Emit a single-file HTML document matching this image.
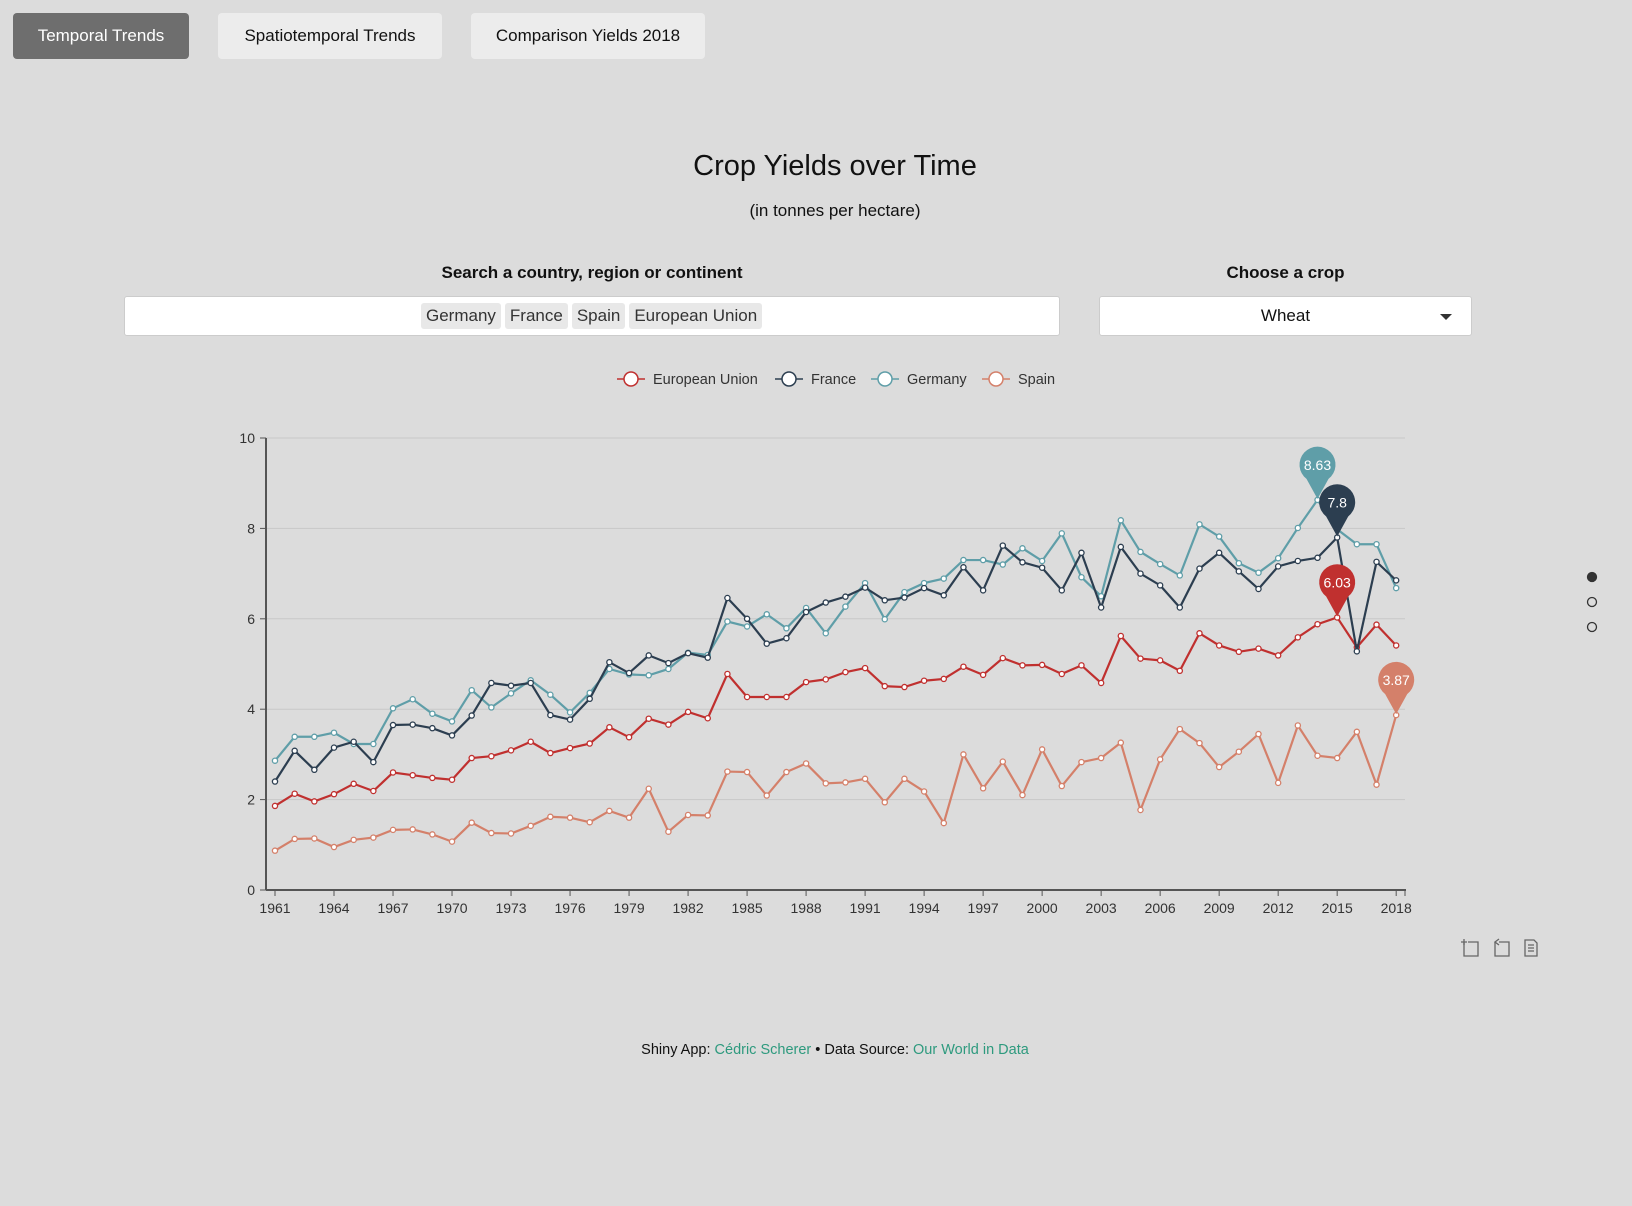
<!DOCTYPE html>
<html><head><meta charset="utf-8"><style>
body{margin:0;width:1632px;height:1206px;background:#dcdcdc;font-family:"Liberation Sans",sans-serif;position:relative;overflow:hidden;color:#111}
.tab{position:absolute;top:13px;height:46px;border-radius:4px;background:#ececec;font-size:17px;line-height:46px;text-align:center;color:#111}
.abs{position:absolute}
.tag{display:inline-block;background:#e8e8e8;border-radius:3px;padding:0 5px;margin-right:4px;height:26px;line-height:26px;font-size:17px;color:#333}
a{color:#2e9a7e;text-decoration:none}
</style></head><body>
<div class="tab" style="left:13px;width:176px;background:#6e6e6e;color:#fff">Temporal Trends</div>
<div class="tab" style="left:218px;width:224px">Spatiotemporal Trends</div>
<div class="tab" style="left:471px;width:234px">Comparison Yields 2018</div>
<div class="abs" style="left:0;width:1670px;top:150px;text-align:center;font-size:29px">Crop Yields over Time</div>
<div class="abs" style="left:0;width:1670px;top:201px;text-align:center;font-size:17px">(in tonnes per hectare)</div>
<div class="abs" style="left:124px;width:936px;top:263px;text-align:center;font-size:17px;font-weight:bold">Search a country, region or continent</div>
<div class="abs" style="left:124px;top:296px;width:936px;height:40px;background:#fff;border:1px solid #ccc;border-radius:3px;box-sizing:border-box;padding:6px 0 0 296px">
<span class="tag">Germany</span><span class="tag">France</span><span class="tag">Spain</span><span class="tag">European Union</span></div>
<div class="abs" style="left:1099px;width:373px;top:263px;text-align:center;font-size:17px;font-weight:bold">Choose a crop</div>
<div class="abs" style="left:1099px;top:296px;width:373px;height:40px;background:#fff;border:1px solid #ccc;border-radius:3px;box-sizing:border-box;text-align:center;line-height:38px;font-size:17px">Wheat<span style="position:absolute;left:340px;top:17px;width:0;height:0;border-left:6px solid transparent;border-right:6px solid transparent;border-top:6px solid #333"></span></div>
<svg id="chart" class="abs" style="left:0;top:0" width="1632" height="1206"></svg>
<div class="abs" style="left:0;width:1670px;top:1042px;text-align:center;font-size:14.5px">Shiny App: <a href="#">Cédric Scherer</a> • Data Source: <a href="#">Our World in Data</a></div>
<script>
const years=[];for(let y=1961;y<=2018;y++)years.push(y);
const seriesNames=["European Union","France","Germany","Spain"];
const seriesColors=["#c0302f","#2c3e50","#5f9ea8","#d4806a"];
const euValues=[1.86,2.13,1.96,2.12,2.35,2.19,2.60,2.54,2.48,2.44,2.92,2.96,3.09,3.28,3.03,3.14,3.24,3.60,3.38,3.79,3.66,3.94,3.80,4.78,4.27,4.27,4.27,4.60,4.66,4.82,4.91,4.51,4.49,4.63,4.67,4.94,4.76,5.13,4.97,4.98,4.78,4.97,4.58,5.62,5.12,5.08,4.85,5.68,5.41,5.27,5.34,5.19,5.59,5.88,6.03,5.37,5.87,5.41];
const franceValues=[2.40,3.08,2.66,3.15,3.28,2.83,3.65,3.66,3.58,3.42,3.86,4.58,4.52,4.58,3.87,3.77,4.23,5.04,4.80,5.19,5.02,5.24,5.14,6.46,6.00,5.45,5.57,6.15,6.36,6.49,6.69,6.41,6.47,6.68,6.52,7.14,6.63,7.62,7.25,7.13,6.63,7.46,6.25,7.59,7.00,6.74,6.25,7.11,7.46,7.05,6.66,7.16,7.28,7.35,7.80,5.28,7.26,6.85];
const germanyValues=[2.86,3.39,3.39,3.48,3.23,3.23,4.02,4.22,3.90,3.73,4.42,4.04,4.35,4.64,4.32,3.93,4.36,4.89,4.77,4.75,4.89,5.25,5.20,5.94,5.83,6.10,5.79,6.24,5.68,6.27,6.79,5.99,6.59,6.79,6.89,7.30,7.30,7.20,7.56,7.28,7.89,6.92,6.50,8.18,7.48,7.21,6.96,8.09,7.82,7.23,7.02,7.34,8.01,8.63,7.98,7.65,7.65,6.68];
const spainValues=[0.87,1.13,1.14,0.95,1.11,1.16,1.33,1.34,1.23,1.07,1.49,1.26,1.25,1.42,1.62,1.60,1.50,1.75,1.60,2.24,1.29,1.66,1.65,2.62,2.61,2.09,2.61,2.80,2.36,2.38,2.46,1.94,2.46,2.18,1.48,3.00,2.25,2.84,2.10,3.11,2.30,2.83,2.92,3.26,1.77,2.89,3.56,3.25,2.72,3.06,3.45,2.37,3.64,2.97,2.92,3.50,2.33,3.87];
const yTicks=[0,2,4,6,8,10];
const xTickYears=[1961,1964,1967,1970,1973,1976,1979,1982,1985,1988,1991,1994,1997,2000,2003,2006,2009,2012,2015,2018];
const allValues=[euValues,franceValues,germanyValues,spainValues];
const NS="http://www.w3.org/2000/svg";
const svg=document.getElementById('chart');
const X=y=>275+(y-1961)*19.67;
const Y=v=>890-v*45.2;
function el(t,a,p){const e=document.createElementNS(NS,t);for(const k in a)e.setAttribute(k,a[k]);(p||svg).appendChild(e);return e;}
yTicks.forEach(t=>{
 if(t>0){const g=el('line',{x1:266,x2:1405,y1:Y(t),y2:Y(t),stroke:'#c8c8c8','stroke-width':1});}
 el('line',{x1:260,x2:266,y1:Y(t),y2:Y(t),stroke:'#555'});
 const tx=el('text',{x:255,y:Y(t)+5,'text-anchor':'end','font-size':14,fill:'#333'});tx.textContent=t;
 
 
});
const ax=el('line',{x1:266,x2:266,y1:Y(10),y2:890,stroke:'#555','stroke-width':2});

const bx=el('line',{x1:266,x2:1406,y1:890,y2:890,stroke:'#555','stroke-width':2});

xTickYears.forEach(yr=>{
 el('line',{x1:X(yr),x2:X(yr),y1:890,y2:896,stroke:'#555'});
 const tx=el('text',{x:X(yr),y:913,'text-anchor':'middle','font-size':14,fill:'#333'});tx.textContent=yr;
 
 
});
el('line',{x1:1405,x2:1405,y1:890,y2:896,stroke:'#555'});
const drawOrder=[3,0,2,1];
drawOrder.forEach(i=>{
 const vals=allValues[i],c=seriesColors[i];
 const p=el('polyline',{points:vals.map((v,k)=>X(years[k])+','+Y(v)).join(' '),fill:'none',stroke:c,'stroke-width':2.2});
 
 
 vals.forEach((v,k)=>{const d=el('circle',{cx:X(years[k]),cy:Y(v),r:2.6,fill:'#fff',stroke:c,'stroke-width':1.3});
  });
});
// max markers
allValues.forEach((vals,i)=>{
 let m=0;vals.forEach((v,k)=>{if(v>vals[m])m=k;});
 const px=X(years[m]),py=Y(vals[m]),cy=py-35,r=18;
 const g=el('g',{});
 
 
 el('path',{d:`M${px},${py-1} L${px-11},${cy+14} A${r},${r} 0 1 1 ${px+11},${cy+14} Z`,fill:seriesColors[i]},g);
 const t=el('text',{x:px,y:cy+5,'text-anchor':'middle','font-size':14,fill:'#fff'},g);t.textContent=vals[m];
});
// legend
const legX=[631,789,885,996];
seriesNames.forEach((n,i)=>{
 const g=el('g',{});
 
 
 el('line',{x1:legX[i]-14,x2:legX[i]+14,y1:379,y2:379,stroke:seriesColors[i],'stroke-width':1.5},g);
 el('circle',{cx:legX[i],cy:379,r:7,fill:'#fff',stroke:seriesColors[i],'stroke-width':1.5},g);
 const t=el('text',{x:legX[i]+22,y:384,'font-size':14.5,fill:'#333'},g);t.textContent=n;
});
// pager dots
[577,602,627].forEach((y,i)=>{const d=el('circle',{cx:1592,cy:y,r:4.5,fill:i==0?'#333':'none',stroke:'#333','stroke-width':1.3});
 });
// toolbar icons
[[1470,'zoom'],[1501,'restore'],[1531,'data-view']].forEach(([x,n],i)=>{
 const g=el('g',{fill:'none',stroke:'#666','stroke-width':1.3});
 
 
 if(i<2){el('path',{d:`M${x-6},${942} V${956} H${x+8} V${942} H${x-2}`},g);
  if(i==0)el('path',{d:`M${x-9},942 H${x-3} M${x-6},939 V945`},g);else el('path',{d:`M${x-2},939 L${x-6},942 L${x-2},945`},g);}
 else{el('path',{d:`M${x-6},940 H${x+3} L${x+6},943 V956 H${x-6} Z M${x-3},945 H${x+3} M${x-3},948 H${x+3} M${x-3},951 H${x+3}`},g);}
});
</script>
</body></html>
